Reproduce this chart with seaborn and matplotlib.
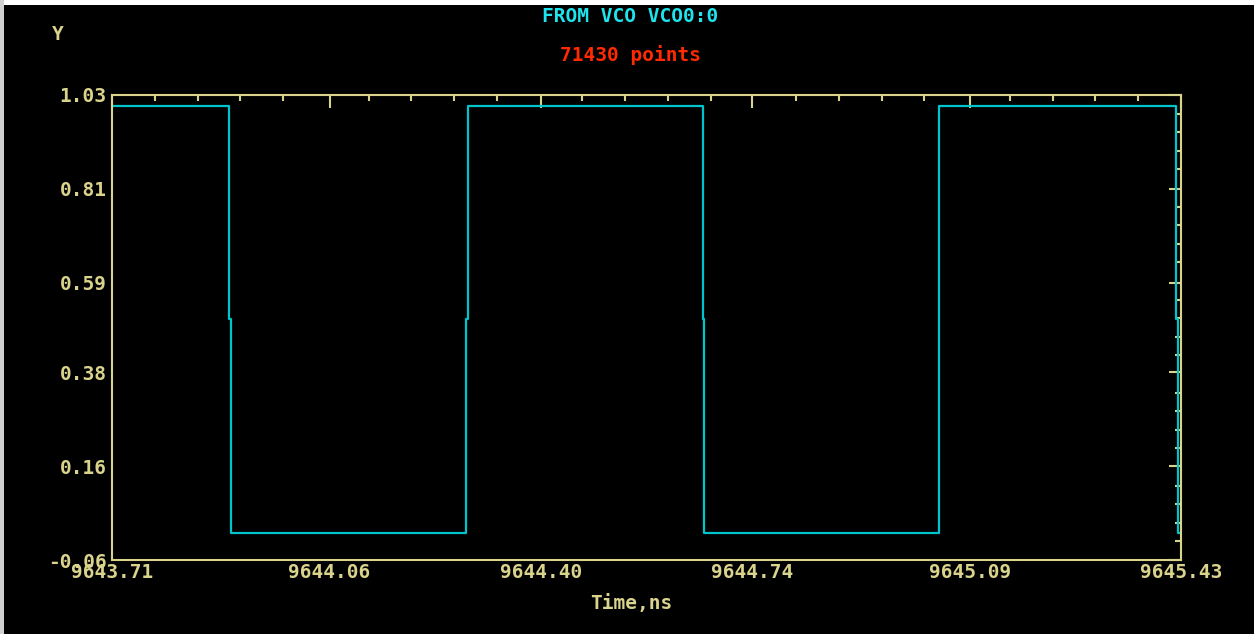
import matplotlib
matplotlib.use("Agg")
import matplotlib.pyplot as plt
import seaborn as sns
import pandas as pd
from matplotlib.patches import Rectangle

# ---- data ----
time_ns = [9643.71, 9643.8987, 9643.8987, 9643.9015, 9643.9015,
           9644.2796, 9644.2796, 9644.2823, 9644.2823,
           9644.6604, 9644.6604, 9644.6625, 9644.6625,
           9645.0407, 9645.0407, 9645.0407, 9645.0407,
           9645.4220, 9645.4220, 9645.4247, 9645.4247, 9645.4300]
volts = [1.005, 1.005, 0.505, 0.505, 0.004,
         0.004, 0.505, 0.505, 1.005,
         1.005, 0.505, 0.505, 0.004,
         0.004, 0.505, 0.505, 1.005,
         1.005, 0.505, 0.505, 0.004, 0.004]
x_ticks = [9643.71, 9644.06, 9644.40, 9644.74, 9645.09, 9645.43]
x_labels = ["9643.71", "9644.06", "9644.40", "9644.74", "9645.09", "9645.43"]
y_ticks = [1.03, 0.81, 0.59, 0.38, 0.16, -0.06]
y_labels = ["1.03", "0.81", "0.59", "0.38", "0.16", "-0.06"]
title_text = "FROM VCO VCO0:0"
points_text = "71430 points"
x_title = "Time,ns"
y_title = "Y"

YEL = "#dad38c"
CYAN_LINE = "#00c4cc"
CYAN_TXT = "#1ee4ee"
RED = "#ff2a00"

sns.set_style("dark")
plt.rcParams['font.family'] = ['DejaVu Sans Mono', 'DejaVu Sans']
plt.rcParams['font.weight'] = 'bold'

fig = plt.figure(figsize=(12.54, 6.34), dpi=100, facecolor="black")
ax = fig.add_axes([112/1254, 1-560/634, (1181-112)/1254, (560-95)/634])
ax.set_facecolor("black")

df = pd.DataFrame({"t": time_ns, "v": volts})
sns.lineplot(data=df, x="t", y="v", sort=False, estimator=None,
             color=CYAN_LINE, linewidth=1.6, ax=ax)

ax.set_xlim(x_ticks[0], x_ticks[-1])
ax.set_ylim(y_ticks[-1], y_ticks[0])
ax.set_xticks(x_ticks)
ax.set_xticklabels(x_labels)
ax.set_yticks(y_ticks)
ax.set_yticklabels(y_labels)
xstep = (x_ticks[-1] - x_ticks[0]) / 25
ystep = (y_ticks[0] - y_ticks[-1]) / 25
ax.set_xticks([x_ticks[0] + i * xstep for i in range(26) if i % 5], minor=True)
ax.set_yticks([y_ticks[-1] + i * ystep for i in range(26) if i % 5], minor=True)
ax.grid(False)
ax.set_xlabel("")
ax.set_ylabel("")

for s in ax.spines.values():
    s.set_visible(True)
    s.set_color(YEL)
    s.set_linewidth(1.5)

ax.tick_params(which="both", direction="in", top=True, right=True,
               color=YEL, labelcolor=YEL, width=1.5, labelsize=14)
ax.tick_params(which="major", length=9, pad=4)
ax.tick_params(which="minor", length=4.5)
ax.tick_params(axis="x", which="major", pad=2)

fig.text(630/1254, 1-17/634, title_text, color=CYAN_TXT, fontsize=14,
         ha="center", va="center", fontweight="bold")
fig.text(630/1254, 1-55/634, points_text, color=RED, fontsize=14,
         ha="center", va="center", fontweight="bold")
fig.text(631/1254, 1-603/634, x_title, color=YEL, fontsize=14,
         ha="center", va="center", fontweight="bold")
fig.text(58/1254, 1-34/634, y_title, color=YEL, fontsize=14,
         ha="center", va="center", fontweight="bold")

# white frame strips at top and left edges
fig.patches.append(Rectangle((0, 1-5/634), 1, 5/634, transform=fig.transFigure,
                             facecolor="white", edgecolor="none", zorder=10))
fig.patches.append(Rectangle((0, 0), 4/1254, 1, transform=fig.transFigure,
                             facecolor="#d0d0d0", edgecolor="none", zorder=10))

fig.savefig("out.png", dpi=100, facecolor="black")
